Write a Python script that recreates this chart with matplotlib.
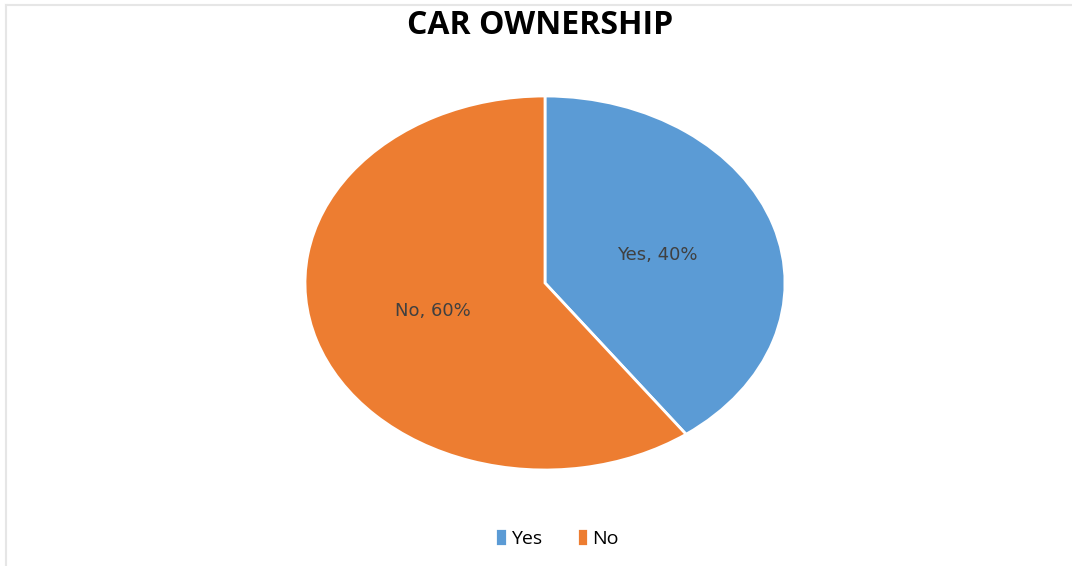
import matplotlib.pyplot as plt
from matplotlib.lines import Line2D

# data
categories = ["Yes", "No"]
shares = [40, 60]
colors = ["#5B9BD5", "#ED7D31"]

fig = plt.figure(figsize=(10.72, 5.66), dpi=100)
fig.patch.set_facecolor("white")

# faint frame of the chart box
fig.add_artist(Line2D([6 / 1072, 1.0], [1 - 5 / 566] * 2, color="#e6e6e6", lw=1.5))
fig.add_artist(Line2D([6 / 1072] * 2, [0.0, 1 - 5 / 566], color="#e6e6e6", lw=1.5))

# pie is stretched horizontally in the reference, so the axes aspect is left free
ax = fig.add_axes([305 / 1072, 1 - 470 / 566, 480 / 1072, 374 / 566])
labels = [f"{c}, {s}%" for c, s in zip(categories, shares)]
wedges, texts = ax.pie(shares, labels=labels, colors=colors, startangle=90,
                       counterclock=False, labeldistance=0.49,
                       wedgeprops=dict(edgecolor="white", linewidth=2),
                       textprops=dict(color="#404040", fontsize=13, family="DejaVu Sans"))
for t in texts:
    t.set_ha("center")
    t.set_va("center")
ax.set_aspect("auto")
ax.set_xlim(-1, 1)
ax.set_ylim(-1, 1)
ax.axis("off")

fig.text(540 / 1072, 1 - 26 / 566, "CAR OWNERSHIP", ha="center", va="center",
         fontsize=23, fontweight="bold", family="Open Sans", color="black")

fig.legend(wedges, categories, loc="center", bbox_to_anchor=(557 / 1072, 1 - 538 / 566),
           ncol=2, frameon=False, handlelength=0.6, handleheight=1.0,
           columnspacing=1.8, handletextpad=0.2,
           prop=dict(family="Open Sans", size=14))

plt.savefig("out.png", dpi=100)
